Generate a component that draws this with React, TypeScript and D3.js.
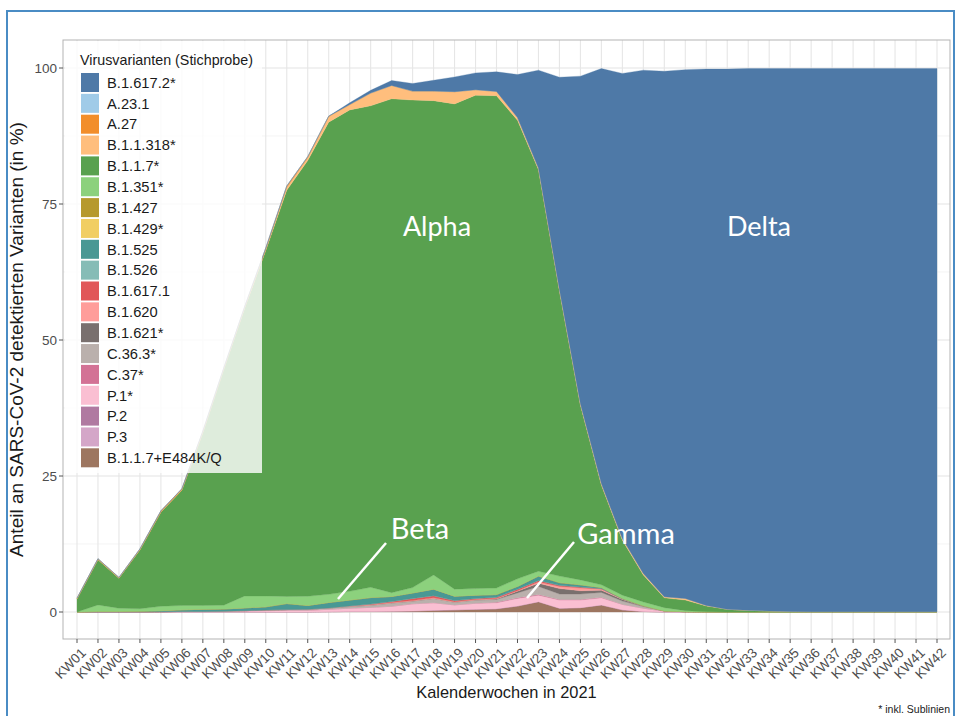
import React, { useEffect, useRef } from "react";
import * as d3 from "d3";

const weeks = [
  "KW01", "KW02", "KW03", "KW04", "KW05", "KW06", "KW07", "KW08", "KW09", "KW10", "KW11", "KW12", "KW13", "KW14",
  "KW15", "KW16", "KW17", "KW18", "KW19", "KW20", "KW21", "KW22", "KW23", "KW24", "KW25", "KW26", "KW27", "KW28",
  "KW29", "KW30", "KW31", "KW32", "KW33", "KW34", "KW35", "KW36", "KW37", "KW38", "KW39", "KW40", "KW41", "KW42",
];

const variants = [
  "B.1.617.2*", "A.23.1", "A.27", "B.1.1.318*", "B.1.1.7*", "B.1.351*", "B.1.427", "B.1.429*", "B.1.525",
  "B.1.526", "B.1.617.1", "B.1.620", "B.1.621*", "C.36.3*", "C.37*", "P.1*", "P.2", "P.3", "B.1.1.7+E484K/Q",
];

const colors = [
  "#4e79a7", "#a0cbe8", "#f28e2b", "#ffbe7d", "#59a14f", "#8cd17d", "#b6992d", "#f1ce63", "#499894",
  "#86bcb6", "#e15759", "#ff9d9a", "#79706e", "#bab0ac", "#d37295", "#fabfd2", "#b07aa1", "#d4a6c8", "#9d7660",
];

const yTicks = [0, 25, 50, 75, 100];

// Anteile in % je Kalenderwoche (KW01..KW42)
const b16172 = [
  0, 0, 0, 0, 0, 0, 0, 0, 0, 0, 0, 0, 0, 0.3,
  0.5, 0.9, 1.4, 2.0, 2.7, 3.1, 3.6, 7.9, 18.0, 39.0, 60.2, 76.3, 85.5, 92.5,
  96.6, 97.2, 98.6, 99.3, 99.6, 99.7, 99.8, 99.85, 99.85, 99.85, 99.85, 99.85, 99.85, 99.85,
];
const a231 = [
  0, 0, 0, 0, 0, 0, 0, 0, 0, 0, 0, 0, 0, 0,
  0, 0, 0, 0, 0, 0, 0, 0, 0, 0, 0, 0, 0, 0,
  0, 0, 0, 0, 0, 0, 0, 0, 0, 0, 0, 0, 0, 0,
];
const a27 = [
  0.1, 0.15, 0.1, 0.15, 0.2, 0.2, 0.2, 0.2, 0.2, 0.25, 0.25, 0.2, 0.1, 0.1,
  0.05, 0.05, 0.05, 0.05, 0.05, 0, 0, 0, 0, 0, 0, 0, 0, 0,
  0, 0, 0, 0, 0, 0, 0, 0, 0, 0, 0, 0, 0, 0,
];
const b11318 = [
  0.05, 0.05, 0.05, 0.05, 0.05, 0.05, 0.05, 0.05, 0.05, 0.2, 0.5, 0.5, 1.0, 0.9,
  2.3, 2.4, 1.6, 1.7, 2.2, 1.0, 0.8, 0.5, 0.3, 0.3, 0.3, 0.3, 0.3, 0.3,
  0.2, 0.3, 0.1, 0, 0, 0, 0, 0, 0, 0, 0, 0, 0, 0,
];
const b117 = [
  2.4, 8.3, 5.5, 10.8, 17.3, 21.2, 31.8, 43.4, 53.0, 63.5, 74.7, 80.1, 86.8, 88.5,
  88.5, 90.8, 89.6, 87.2, 89.2, 90.7, 90.5, 84.3, 73.8, 52.4, 32.1, 18.3, 10.1, 4.95,
  1.8, 1.95, 1.0, 0.5, 0.3, 0.2, 0.1, 0.05, 0.05, 0.05, 0.05, 0.05, 0.05, 0.05,
];
const b1351 = [
  0, 1.2, 0.6, 0.45, 0.8, 0.8, 0.7, 0.7, 2.2, 2.0, 1.3, 1.7, 1.5, 1.6,
  1.9, 0.7, 1.0, 2.6, 1.3, 1.2, 1.2, 1.4, 0.9, 1.2, 0.9, 0.5, 0.6, 0.7,
  0.6, 0.2, 0.1, 0, 0, 0, 0, 0, 0, 0, 0, 0, 0, 0,
];
const b1427 = [
  0, 0, 0, 0, 0, 0, 0, 0, 0, 0, 0, 0, 0, 0,
  0, 0, 0, 0, 0, 0, 0, 0, 0, 0, 0, 0, 0, 0,
  0, 0, 0, 0, 0, 0, 0, 0, 0, 0, 0, 0, 0, 0,
];
const b1429 = [
  0, 0, 0, 0, 0, 0, 0, 0, 0, 0, 0, 0, 0, 0,
  0, 0, 0, 0, 0, 0, 0, 0, 0, 0, 0, 0, 0, 0,
  0, 0, 0, 0, 0, 0, 0, 0, 0, 0, 0, 0, 0, 0,
];
const b1525 = [
  0, 0.1, 0.1, 0.15, 0.2, 0.3, 0.4, 0.4, 0.5, 0.6, 1.1, 0.7, 1.0, 1.1,
  1.2, 0.9, 1.0, 1.2, 0.8, 0.6, 0.5, 0.5, 0.8, 0.5, 0.4, 0.2, 0.1, 0.05,
  0, 0, 0, 0, 0, 0, 0, 0, 0, 0, 0, 0, 0, 0,
];
const b1526 = [
  0, 0, 0, 0, 0, 0, 0, 0, 0, 0, 0, 0, 0, 0,
  0, 0, 0, 0, 0, 0, 0, 0, 0, 0, 0, 0, 0, 0,
  0, 0, 0, 0, 0, 0, 0, 0, 0, 0, 0, 0, 0, 0,
];
const b16171 = [
  0, 0, 0, 0, 0, 0, 0, 0, 0, 0, 0, 0, 0, 0,
  0.1, 0.2, 0.4, 0.4, 0.2, 0.2, 0.2, 0.3, 0.3, 0.2, 0.2, 0.1, 0, 0,
  0, 0, 0, 0, 0, 0, 0, 0, 0, 0, 0, 0, 0, 0,
];
const b1620 = [
  0, 0, 0, 0, 0, 0, 0, 0, 0, 0, 0, 0, 0, 0.1,
  0.1, 0.1, 0.1, 0.1, 0.1, 0.1, 0.1, 0.1, 0.2, 0.4, 0.5, 0.2, 0.1, 0,
  0, 0, 0, 0, 0, 0, 0, 0, 0, 0, 0, 0, 0, 0,
];
const b1621 = [
  0, 0, 0, 0, 0, 0, 0, 0, 0, 0, 0, 0, 0, 0,
  0, 0, 0, 0, 0, 0, 0.1, 0.3, 0.6, 1.0, 0.6, 0.4, 0.3, 0.1,
  0, 0, 0, 0, 0, 0, 0, 0, 0, 0, 0, 0, 0, 0,
];
const c363 = [
  0, 0, 0, 0, 0, 0, 0, 0, 0.05, 0.1, 0.15, 0.2, 0.25, 0.3,
  0.4, 0.6, 0.5, 0.8, 0.5, 0.6, 0.5, 0.9, 1.5, 1.0, 1.0, 0.9, 0.6, 0.3,
  0.05, 0, 0, 0, 0, 0, 0, 0, 0, 0, 0, 0, 0, 0,
];
const c37 = [
  0, 0, 0, 0, 0, 0, 0, 0, 0, 0, 0, 0, 0, 0,
  0, 0, 0, 0, 0, 0, 0.1, 0.1, 0.1, 0.1, 0.1, 0.1, 0, 0,
  0, 0, 0, 0, 0, 0, 0, 0, 0, 0, 0, 0, 0, 0,
];
const p1 = [
  0, 0, 0, 0, 0.05, 0.1, 0.1, 0.15, 0.2, 0.25, 0.3, 0.3, 0.45, 0.6,
  0.75, 0.9, 1.3, 1.4, 0.9, 1.1, 1.1, 1.4, 1.2, 1.5, 1.4, 1.3, 1.0, 0.6,
  0.15, 0.05, 0, 0, 0, 0, 0, 0, 0, 0, 0, 0, 0, 0,
];
const p2 = [
  0, 0, 0, 0, 0, 0, 0, 0, 0, 0, 0, 0, 0, 0,
  0, 0, 0, 0, 0, 0, 0, 0, 0, 0, 0, 0, 0, 0,
  0, 0, 0, 0, 0, 0, 0, 0, 0, 0, 0, 0, 0, 0,
];
const p3 = [
  0, 0, 0, 0, 0, 0, 0, 0, 0, 0, 0, 0, 0, 0,
  0, 0, 0, 0, 0, 0, 0, 0, 0, 0, 0, 0, 0, 0,
  0, 0, 0, 0, 0, 0, 0, 0, 0, 0, 0, 0, 0, 0,
];
const b117e484k = [
  0, 0, 0, 0, 0, 0, 0, 0, 0, 0, 0, 0, 0.05, 0.1,
  0.1, 0.15, 0.2, 0.3, 0.4, 0.5, 0.6, 1.1, 1.9, 0.7, 0.8, 1.3, 0.4, 0.1,
  0, 0, 0, 0, 0, 0, 0, 0, 0, 0, 0, 0, 0, 0,
];

const seriesValues = [
  b16172, a231, a27, b11318, b117, b1351, b1427, b1429, b1525,
  b1526, b16171, b1620, b1621, c363, c37, p1, p2, p3, b117e484k,
];

const App = () => {
  const ref = useRef<SVGSVGElement>(null);

  useEffect(() => {
    const width = 960;
    const height = 716;
    const panel = { left: 63, right: 950, top: 40, bottom: 639 };
    const font = "'Liberation Sans', Arial, sans-serif";

    const svg = d3.select(ref.current);
    svg.selectAll("*").remove();

    const rows = weeks.map((w, i) => {
      const r: any = { week: w };
      variants.forEach((v, j) => (r[v] = seriesValues[j][i]));
      return r;
    });

    const x = d3.scalePoint().domain(weeks).range([77, 937]);
    const y = d3.scaleLinear().domain([0, 100]).range([612, 68]);
    const color = d3.scaleOrdinal<string, string>().domain(variants).range(colors);

    svg.append("rect").attr("width", width).attr("height", height).attr("fill", "#fff");

    // outer frame of the screenshot
    svg.append("rect")
      .attr("x", 7).attr("y", 11)
      .attr("width", 947).attr("height", 720)
      .attr("fill", "none")
      .attr("stroke", "#4a8cc4")
      .attr("stroke-width", 2);

    // grid
    const grid = svg.append("g");
    const minor = [12.5, 37.5, 62.5, 87.5];
    grid.selectAll(".minor").data(minor).join("line")
      .attr("x1", panel.left).attr("x2", panel.right)
      .attr("y1", d => y(d)).attr("y2", d => y(d))
      .attr("stroke", "#ededed").attr("stroke-width", 0.6);
    grid.selectAll(".major").data(yTicks).join("line")
      .attr("x1", panel.left).attr("x2", panel.right)
      .attr("y1", d => y(d)).attr("y2", d => y(d))
      .attr("stroke", "#e3e3e3").attr("stroke-width", 1.1);
    grid.selectAll(".vert").data(weeks).join("line")
      .attr("x1", d => x(d)!).attr("x2", d => x(d)!)
      .attr("y1", panel.top).attr("y2", panel.bottom)
      .attr("stroke", "#e6e6e6").attr("stroke-width", 1.1);

    // stacked areas, first legend entry on top
    const stack = d3.stack<any>().keys(variants.slice().reverse());
    const layers = stack(rows);
    const area = d3.area<any>()
      .x(d => x(d.data.week)!)
      .y0(d => y(d[0]))
      .y1(d => y(d[1]));

    svg.append("g").selectAll("path").data(layers).join("path")
      .attr("d", area)
      .attr("fill", d => color(d.key))
      .attr("stroke", d => color(d.key))
      .attr("stroke-width", 0.3);

    // panel border
    svg.append("rect")
      .attr("x", panel.left).attr("y", panel.top)
      .attr("width", panel.right - panel.left).attr("height", panel.bottom - panel.top)
      .attr("fill", "none").attr("stroke", "#b3b3b3").attr("stroke-width", 1);

    // y axis
    const yAxis = svg.append("g");
    yAxis.selectAll("line").data(yTicks).join("line")
      .attr("x1", panel.left - 4).attr("x2", panel.left)
      .attr("y1", d => y(d)).attr("y2", d => y(d))
      .attr("stroke", "#555");
    yAxis.selectAll("text").data(yTicks).join("text")
      .attr("x", panel.left - 6).attr("y", d => y(d))
      .attr("dy", "0.35em")
      .attr("text-anchor", "end")
      .style("font-family", font).style("font-size", "13.5px")
      .attr("fill", "#4d4d4d")
      .text(d => d);

    // x axis
    const xAxis = svg.append("g");
    xAxis.selectAll("line").data(weeks).join("line")
      .attr("x1", d => x(d)!).attr("x2", d => x(d)!)
      .attr("y1", panel.bottom).attr("y2", panel.bottom + 4)
      .attr("stroke", "#555");
    xAxis.selectAll("text").data(weeks).join("text")
      .attr("transform", d => `translate(${x(d)! + 4},${panel.bottom + 9}) rotate(-45)`)
      .attr("text-anchor", "end")
      .attr("dy", "0.6em")
      .style("font-family", font).style("font-size", "13.5px")
      .attr("fill", "#4d4d4d")
      .text(d => d);

    svg.append("text")
      .attr("x", (panel.left + panel.right) / 2).attr("y", 698)
      .attr("text-anchor", "middle")
      .style("font-family", font).style("font-size", "16.4px")
      .attr("fill", "#1a1a1a")
      .text("Kalenderwochen in 2021");

    svg.append("text")
      .attr("transform", `translate(23,${(panel.top + panel.bottom) / 2}) rotate(-90)`)
      .attr("text-anchor", "middle")
      .style("font-family", font).style("font-size", "19px")
      .attr("fill", "#1a1a1a")
      .text("Anteil an SARS-CoV-2 detektierten Varianten (in %)");

    svg.append("text")
      .attr("x", 950).attr("y", 713)
      .attr("text-anchor", "end")
      .style("font-family", font).style("font-size", "10.5px")
      .attr("fill", "#1a1a1a")
      .text("* inkl. Sublinien");

    // annotations
    const note = svg.append("g")
      .style("font-family", "Lato, 'Open Sans', sans-serif")
      .attr("fill", "#fff");
    note.append("text").attr("x", 437).attr("y", 236).attr("text-anchor", "middle")
      .style("font-size", "27px").text("Alpha");
    note.append("text").attr("x", 759).attr("y", 236).attr("text-anchor", "middle")
      .style("font-size", "27px").text("Delta");
    note.append("text").attr("x", 420).attr("y", 539).attr("text-anchor", "middle")
      .style("font-size", "29px").text("Beta");
    note.append("text").attr("x", 626).attr("y", 544).attr("text-anchor", "middle")
      .style("font-size", "29px").text("Gamma");
    note.append("line").attr("x1", 386).attr("y1", 543).attr("x2", 338).attr("y2", 599)
      .attr("stroke", "#fff").attr("stroke-width", 2.5);
    note.append("line").attr("x1", 574).attr("y1", 542).attr("x2", 527).attr("y2", 598)
      .attr("stroke", "#fff").attr("stroke-width", 2.5);

    // legend
    const legend = svg.append("g");
    legend.append("rect")
      .attr("x", 65).attr("y", 41).attr("width", 197).attr("height", 432)
      .attr("fill", "#fff").attr("fill-opacity", 0.8);
    legend.append("text")
      .attr("x", 80).attr("y", 65)
      .style("font-family", font).style("font-size", "14.3px")
      .attr("fill", "#1a1a1a")
      .text("Virusvarianten (Stichprobe)");
    const item = legend.selectAll("g.item").data(variants).join("g")
      .attr("transform", (d, i) => `translate(81,${73 + i * 20.85})`);
    item.append("rect")
      .attr("width", 18).attr("height", 19)
      .attr("fill", d => color(d));
    item.append("text")
      .attr("x", 26).attr("y", 9.5).attr("dy", "0.36em")
      .style("font-family", font).style("font-size", "14.7px")
      .attr("fill", "#1a1a1a")
      .text(d => d);
  }, []);

  return (
    <svg
      ref={ref}
      width={960}
      height={716}
      style={{ position: "absolute", top: 0, left: 0, display: "block" }}
    ></svg>
  );
};

export default App;
